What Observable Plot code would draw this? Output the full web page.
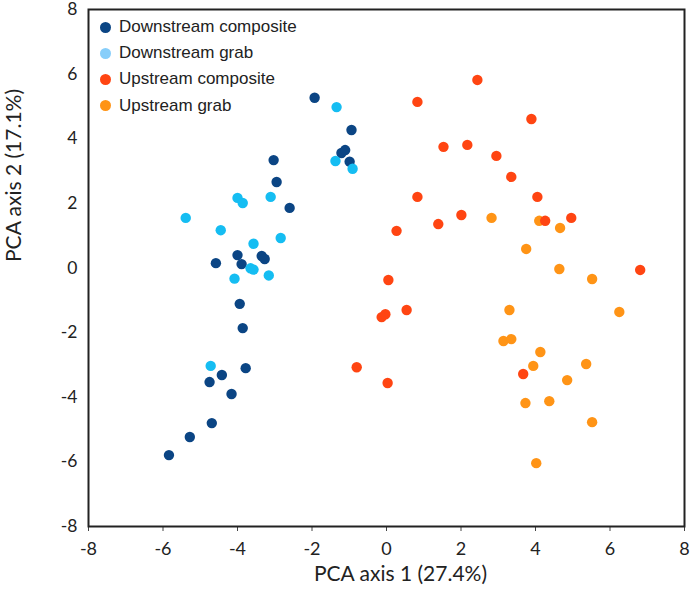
<!DOCTYPE html>
<html>
<head>
<meta charset="utf-8">
<script src="https://cdn.jsdelivr.net/npm/d3@7"></script>
<script src="https://cdn.jsdelivr.net/npm/@observablehq/plot@0.6"></script>
<style>
  html, body { margin: 0; padding: 0; background: #fff; }
  #wrap { position: relative; width: 692px; height: 598px; }
  #legend { position: absolute; left: 100px; top: 14px; font-family: "Liberation Sans", Arial, sans-serif; font-size: 17px; color: #222; }
  #legend .row { display: flex; align-items: center; height: 26.2px; }
  #legend .sw { width: 11px; height: 11px; border-radius: 50%; margin-right: 8px; }
</style>
</head>
<body>
<div id="wrap"><div id="legend"></div></div>
<script>
const seriesNames = ["Downstream composite", "Downstream grab", "Upstream composite", "Upstream grab"];
const seriesColors = ["#0b4584", "#15bdf2", "#ff4512", "#ff9416"];
const legendColors = ["#0b4584", "#87cefa", "#ff4512", "#ff9416"];
const xTicks = [-8, -6, -4, -2, 0, 2, 4, 6, 8];
const yTicks = [-8, -6, -4, -2, 0, 2, 4, 6, 8];
const xTitle = "PCA axis 1 (27.4%)";
const yTitle = "PCA axis 2 (17.1%)";

const downstreamComposite = [
  [-1.93, 5.27], [-3.03, 3.34], [-2.95, 2.66], [-2.60, 1.86], [-4.58, 0.15],
  [-4.00, 0.40], [-3.89, 0.12], [-3.35, 0.37], [-3.27, 0.28], [-0.94, 4.27],
  [-1.21, 3.56], [-1.11, 3.65], [-0.99, 3.29], [-3.94, -1.11], [-3.86, -1.86],
  [-3.78, -3.10], [-4.42, -3.31], [-4.75, -3.53], [-4.16, -3.90], [-4.69, -4.80],
  [-5.28, -5.23], [-5.84, -5.79]
];
const downstreamGrab = [
  [-1.34, 4.98], [-1.37, 3.31], [-0.91, 3.07], [-5.39, 1.55], [-4.45, 1.17],
  [-4.00, 2.17], [-3.86, 2.01], [-3.11, 2.20], [-2.84, 0.93], [-3.57, 0.75],
  [-4.08, -0.33], [-3.65, -0.01], [-3.57, -0.05], [-3.16, -0.23], [-4.72, -3.03]
];
const upstreamComposite = [
  [2.44, 5.82], [0.83, 5.14], [3.89, 4.61], [1.53, 3.75], [2.17, 3.81],
  [2.95, 3.47], [3.35, 2.82], [0.83, 2.20], [4.05, 2.20], [2.01, 1.64],
  [1.39, 1.36], [0.27, 1.15], [4.26, 1.46], [4.96, 1.55], [0.05, -0.37],
  [6.81, -0.06], [0.54, -1.30], [-0.13, -1.52], [-0.03, -1.43], [-0.80, -3.07],
  [0.03, -3.56], [3.67, -3.28]
];
const upstreamGrab = [
  [2.82, 1.55], [4.10, 1.46], [4.66, 1.24], [3.75, 0.59], [4.64, -0.03],
  [5.52, -0.34], [3.30, -1.30], [6.25, -1.36], [3.14, -2.26], [3.35, -2.20],
  [4.13, -2.60], [3.94, -3.03], [5.36, -2.97], [4.85, -3.47], [3.73, -4.18],
  [4.37, -4.12], [5.52, -4.77], [4.02, -6.04]
];

const toRows = (arr, s) => arr.map(([x, y]) => ({x, y, series: s}));
const drawOrder = [
  toRows(downstreamComposite, seriesNames[0]),
  toRows(downstreamGrab, seriesNames[1]),
  toRows(upstreamGrab, seriesNames[3]),
  toRows(upstreamComposite, seriesNames[2])
];
const data = drawOrder.flat();
const fmt = d => String(d);

const chart = Plot.plot({
  width: 692,
  height: 598,
  marginLeft: 88,
  marginRight: 8,
  marginTop: 9,
  marginBottom: 72,
  style: { fontFamily: "Lato, 'Open Sans', sans-serif", fontSize: "18px", color: "#222", background: "#fff" },
  x: { domain: [-8, 8] },
  y: { domain: [-8, 8] },
  color: { domain: seriesNames, range: seriesColors },
  marks: [
    Plot.axisX({ ticks: xTicks, tickFormat: fmt, tickSize: 5, tickPadding: 11, label: null, fontSize: 18, stroke: "#444" }),
    Plot.axisY({ ticks: yTicks, tickFormat: fmt, tickSize: 0, tickPadding: 11, label: null, fontSize: 17.5 }),
    Plot.dot(data, { x: "x", y: "y", fill: "series", r: 5.2 }),
    Plot.frame({ stroke: "#222", strokeWidth: 2 }),
    Plot.text([xTitle], { frameAnchor: "bottom", dy: 54, fontSize: 21, fill: "#222", dx: 14 }),
    Plot.text([yTitle], { frameAnchor: "left", rotate: -90, dx: -74, dy: -6, fontSize: 21, fill: "#222" })
  ]
});
document.getElementById("wrap").prepend(chart);

const legend = document.getElementById("legend");
seriesNames.forEach((name, i) => {
  const row = document.createElement("div");
  row.className = "row";
  const sw = document.createElement("span");
  sw.className = "sw";
  sw.style.background = legendColors[i];
  const t = document.createElement("span");
  t.textContent = name;
  row.append(sw, t);
  legend.append(row);
});
</script>
</body>
</html>
